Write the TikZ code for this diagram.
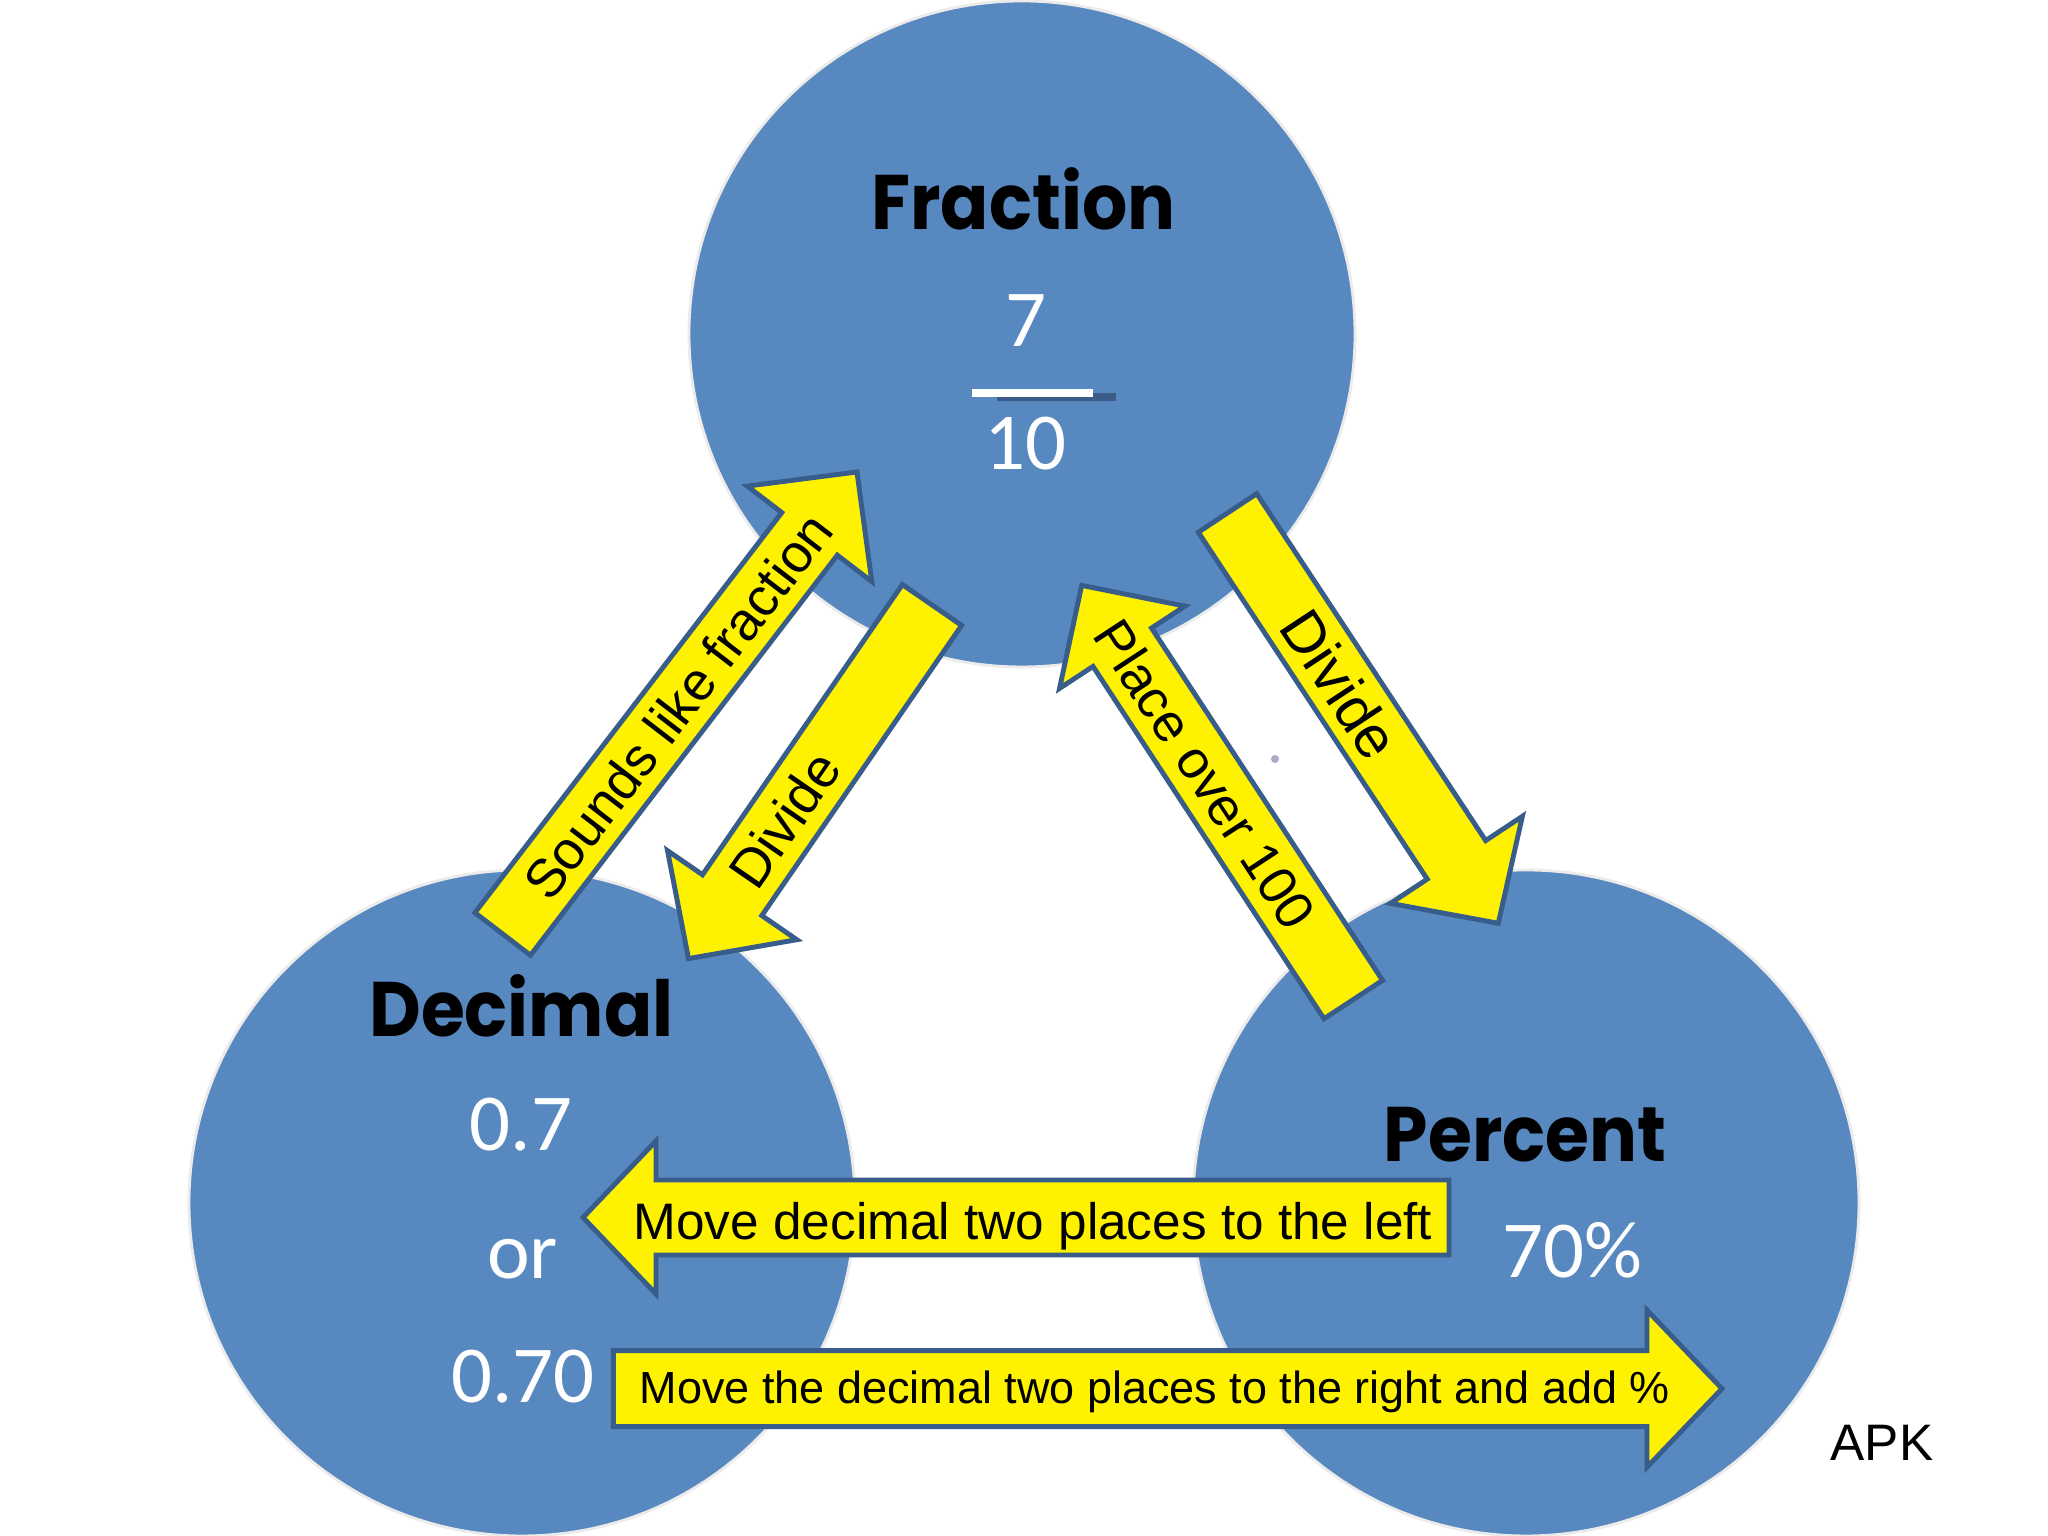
\documentclass[tikz,border=0pt]{standalone}
\usepackage{fontspec}
\newfontfamily\arialfont{Liberation Sans}
\newfontfamily\calibrifont{Carlito}
\newfontfamily\titlefont{Poppins}
\usetikzlibrary{calc,positioning}
\definecolor{circblue}{RGB}{87,136,192}
\definecolor{arrowedge}{RGB}{56,93,138}
\definecolor{bardark}{RGB}{60,92,138}
\definecolor{dotgray}{RGB}{170,170,200}
\tikzset{
  bubble/.style={circle,minimum size=6.66cm,inner sep=0pt,fill=circblue,draw=white!92!black,line width=0.8pt},
  blockarrow/.style={fill=yellow,draw=arrowedge,line width=1.4pt,line join=miter},
  title/.style={font=\titlefont\bfseries\fontsize{22}{22}\selectfont,anchor=base,xscale=0.92},
  numtext/.style={font=\calibrifont\fontsize{23}{23}\selectfont,text=white,anchor=base},
  armtext/.style={font=\arialfont\fontsize{14.6}{14.6}\selectfont,inner sep=0pt}
}
% yellow block arrow: tail, tip, half shaft, half head, head length
\newcommand{\yarrow}[5]{%
  \coordinate (#1-base) at ($(#2)!#5!(#1)$);
  \draw[blockarrow] ($(#1)!#3!90:(#2)$) -- ($(#1-base)!#3!-90:(#1)$)
    -- ($(#1-base)!#4!-90:(#1)$) -- (#2)
    -- ($(#1-base)!#4!90:(#1)$) -- ($(#1-base)!#3!90:(#1)$)
    -- ($(#1)!#3!-90:(#2)$) -- cycle;}
\begin{document}
\begin{tikzpicture}
\fill[white] (0,0) rectangle (20.48,15.36);
\useasboundingbox (0,0) rectangle (20.48,15.36);

% the three circles
\node[bubble] (frac) at (10.22,12.02) {};
\node[bubble] (dec) at (5.22,3.33) {};
\node[bubble] (perc) at (15.26,3.33) {};

\node[title] (fractitle) at (10.235,13.06) {Fraction};
\node[title] (dectitle) at (5.215,4.995) {Decimal};
\node[title] (perctitle) at (15.25,3.74) {Percent};

\node[numtext] (num) at (10.255,11.89) {7};
\draw[bardark,line width=0.08cm] (9.97,11.385) -- (11.16,11.385);
\draw[white,line width=0.08cm] (9.72,11.43) -- (10.93,11.43);
\node[numtext] (den) at (10.25,10.66) {10};
\node[numtext] (dec1) at (5.21,3.85) {0.7};
\node[numtext] (decor) at (5.225,2.57) {or};
\node[numtext] (dec2) at (5.23,1.33) {0.70};
\node[numtext] (pct) at (15.725,2.58) {70\%};

\fill[dotgray] (12.75,7.77) circle (0.04);

% arrow ends
\coordinate (a1t) at (5.027,6.02);
\coordinate (a1h) at (8.57,10.64);
\coordinate (a2t) at (9.32,9.31);
\coordinate (a2h) at (6.885,5.774);
\coordinate (a3t) at (12.275,10.23);
\coordinate (a3h) at (14.983,6.127);
\coordinate (a4t) at (13.533,5.364);
\coordinate (a4h) at (10.817,9.506);
\coordinate (a5t) at (14.49,3.185);
\coordinate (a5h) at (5.83,3.185);
\coordinate (a6t) at (6.133,1.473);
\coordinate (a6h) at (17.22,1.473);

\yarrow{a1t}{a1h}{0.35cm}{0.785cm}{0.78cm}
\yarrow{a2t}{a2h}{0.36cm}{0.785cm}{0.77cm}
\yarrow{a3t}{a3h}{0.35cm}{0.79cm}{0.76cm}
\yarrow{a4t}{a4h}{0.35cm}{0.75cm}{0.74cm}
\yarrow{a5t}{a5h}{0.375cm}{0.765cm}{0.73cm}
\yarrow{a6t}{a6h}{0.38cm}{0.785cm}{0.75cm}

\node[armtext,rotate=52.5,font=\arialfont\fontsize{15.3}{15.3}\selectfont] (sounds) at ($(a1t)!2.876cm!(a1h)$) {Sounds like fraction};
\node[armtext,rotate=55.45,font=\arialfont\fontsize{15.5}{15.5}\selectfont] (divleft) at ($(a2t)!2.604cm!(a2h)$) {Divide};
\node[armtext,rotate=-56.6,font=\arialfont\fontsize{16.8}{16.8}\selectfont] (divright) at ($(a3t)!2.05cm!(a3h)$) {Divide};
\node[armtext,rotate=-56.75,font=\arialfont\fontsize{15.2}{15.2}\selectfont] (place) at ($(a4t)!2.699cm!(a4h)$) {Place over 100};
\node[armtext,anchor=base] (toleft) at (10.33,2.967) {Move decimal two places to the left};
\node[armtext,anchor=base,font=\arialfont\fontsize{12.8}{12.8}\selectfont] (toright) at (11.55,1.32) {Move the decimal two places to the right and add \%};

\node[armtext,anchor=base west] (apk) at (18.30,0.75) {APK};
\end{tikzpicture}
\end{document}
